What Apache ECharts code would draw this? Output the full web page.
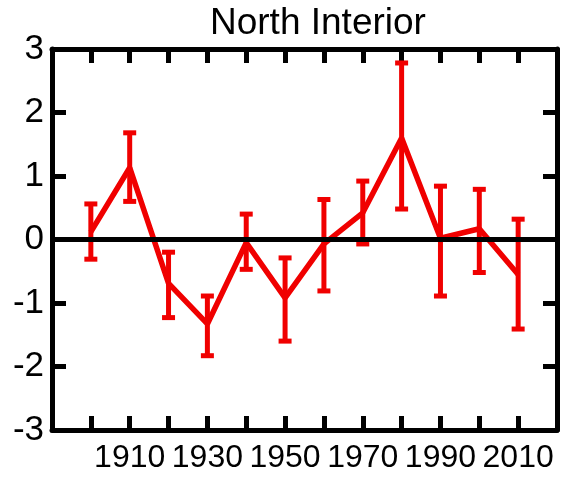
<!DOCTYPE html>
<html>
<head>
<meta charset="utf-8">
<script src="https://cdn.jsdelivr.net/npm/echarts@6/dist/echarts.min.js"></script>
<style>
html,body{margin:0;padding:0;background:#fff;}
#main{width:563px;height:479px;}
</style>
</head>
<body>
<div id="main"></div>
<script>
const titleText = 'North Interior';
const years = [1900, 1910, 1920, 1930, 1940, 1950, 1960, 1970, 1980, 1990, 2000, 2010];
const values = [0.12, 1.13, -0.69, -1.33, -0.05, -0.92, -0.07, 0.42, 1.60, 0.02, 0.17, -0.55];
const upper = [0.56, 1.68, -0.20, -0.89, 0.40, -0.29, 0.63, 0.92, 2.78, 0.84, 0.79, 0.32];
const lower = [-0.31, 0.60, -1.23, -1.83, -0.47, -1.60, -0.81, -0.07, 0.48, -0.89, -0.52, -1.41];
const xLabels = [1910, 1930, 1950, 1970, 1990, 2010];
const yTicks = [-3, -2, -1, 0, 1, 2, 3];

const RED = '#f00000';
const chart = echarts.init(document.getElementById('main'), null, {renderer: 'canvas'});

const lineData = years.map((y, i) => [y, values[i]]);
const errData = years.map((y, i) => [y, lower[i], upper[i]]);

function axisCommon() {
  return {
    axisLine: {show: true, onZero: false, lineStyle: {color: '#000', width: 5}},
    axisTick: {show: true, inside: true, length: 14, lineStyle: {color: '#000', width: 5}},
    splitLine: {show: false}
  };
}

chart.setOption({
  animation: false,
  backgroundColor: '#fff',
  title: {
    text: titleText,
    left: 205,
    top: 0,
    textStyle: {fontFamily: 'Liberation Sans', fontSize: 37, fontWeight: 'normal', color: '#000'}
  },
  grid: {left: 52, right: 6, top: 49, bottom: 49, containLabel: false},
  xAxis: [
    Object.assign(axisCommon(), {
      type: 'value', position: 'bottom', min: 1890, max: 2020, interval: 10,
      axisLabel: {
        show: true, margin: 12, color: '#000',
        fontFamily: 'Liberation Sans', fontSize: 32,
        formatter: v => xLabels.indexOf(v) >= 0 ? String(v) : ''
      }
    }),
    Object.assign(axisCommon(), {
      type: 'value', position: 'top', min: 1890, max: 2020, interval: 10,
      axisLabel: {show: false}
    })
  ],
  yAxis: [
    Object.assign(axisCommon(), {
      type: 'value', position: 'left', min: -3, max: 3, interval: 1,
      axisLabel: {
        show: true, margin: 8, color: '#000',
        fontFamily: 'Liberation Sans', fontSize: 35,
        formatter: v => yTicks.indexOf(v) >= 0 ? String(v) : ''
      }
    }),
    Object.assign(axisCommon(), {
      type: 'value', position: 'right', min: -3, max: 3, interval: 1,
      axisLabel: {show: false}
    })
  ],
  series: [
    {
      type: 'custom',
      xAxisIndex: 0, yAxisIndex: 0,
      z: 3,
      data: errData,
      renderItem: function (params, api) {
        const x = api.value(0);
        const lo = api.coord([x, api.value(1)]);
        const hi = api.coord([x, api.value(2)]);
        const hw = 6.5;
        const st = {stroke: RED, lineWidth: 5, fill: null};
        return {
          type: 'group',
          children: [
            {type: 'line', shape: {x1: lo[0], y1: lo[1], x2: hi[0], y2: hi[1]}, style: st},
            {type: 'line', shape: {x1: lo[0] - hw, y1: lo[1], x2: lo[0] + hw, y2: lo[1]}, style: st},
            {type: 'line', shape: {x1: hi[0] - hw, y1: hi[1], x2: hi[0] + hw, y2: hi[1]}, style: st}
          ]
        };
      }
    },
    {
      type: 'line',
      xAxisIndex: 0, yAxisIndex: 0,
      z: 4,
      data: lineData,
      symbol: 'none',
      lineStyle: {color: RED, width: 5.5},
      markLine: {
        silent: true,
        symbol: 'none',
        z: 5,
        label: {show: false},
        lineStyle: {color: '#000', width: 5, type: 'solid'},
        data: [{yAxis: 0}]
      }
    }
  ]
});
</script>
</body>
</html>
